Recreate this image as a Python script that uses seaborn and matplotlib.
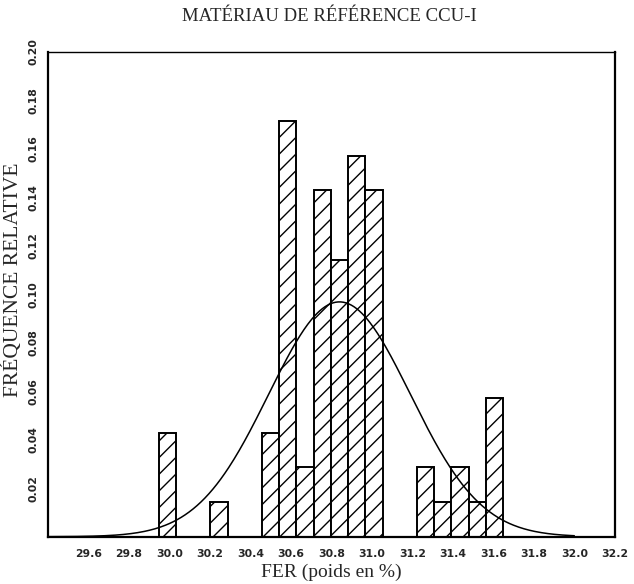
import numpy as np
import pandas as pd
import matplotlib
matplotlib.use("Agg")
import matplotlib.pyplot as plt
import seaborn as sns

# ---- data ----
bin_start = 29.99          # centre of first bin
bin_width = 0.085
bin_index = [0, 3, 6, 7, 8, 9, 10, 11, 12, 15, 16, 17, 18, 19]
counts    = [3, 1, 3, 12, 2, 10, 8, 11, 10, 2, 1, 2, 1, 4]
n_total   = 70
fit_mean  = 30.84
fit_sd    = 0.35
x_ticks   = [29.6, 29.8, 30.0, 30.2, 30.4, 30.6, 30.8, 31.0, 31.2, 31.4, 31.6, 31.8, 32.0, 32.2]
y_ticks   = [0.0, 0.02, 0.04, 0.06, 0.08, 0.10, 0.12, 0.14, 0.16, 0.18, 0.20]
y_labels  = ["", "0.02", "0.04", "0.06", "0.08", "0.10", "0.12", "0.14", "0.16", "0.18", "0.20"]
title     = "MATÉRIAU DE RÉFÉRENCE CCU-I"
xlabel    = "FER (poids en %)"
ylabel    = "FRÉQUENCE RELATIVE"

sns.set_theme(style="white")
plt.rcParams["font.family"] = ["Liberation Serif", "DejaVu Serif"]
plt.rcParams["hatch.linewidth"] = 1.0

centres = [bin_start + k * bin_width for k in bin_index]
df = pd.DataFrame({"FER": centres, "freq": [c / n_total for c in counts]})
edges = [bin_start - bin_width / 2 + k * bin_width for k in range(max(bin_index) + 2)]

fig = plt.figure(figsize=(6.34, 5.84), dpi=100)
ax = fig.add_axes([0.0757, 0.081, 0.894, 0.830])

sns.histplot(data=df, x="FER", weights="freq", bins=edges, stat="count",
             color="white", edgecolor="black", linewidth=1.4, hatch="//",
             alpha=1.0, ax=ax)

# fitted normal curve scaled to relative frequency per bin
xs = np.linspace(29.40, 32.0, 400)
ys = bin_width * np.exp(-0.5 * ((xs - fit_mean) / fit_sd) ** 2) / (fit_sd * np.sqrt(2 * np.pi))
sns.lineplot(x=xs, y=ys, color="black", linewidth=1.1, ax=ax)

ax.set_xlim(29.40, 32.2)
ax.set_ylim(0, 0.2)
tick_font = dict(family="DejaVu Sans", size=7.8, weight="bold")
ax.set_xticks(x_ticks)
ax.set_xticklabels([f"{v:.1f}" for v in x_ticks], fontdict=tick_font)
ax.set_yticks(y_ticks)
ax.set_yticklabels(y_labels, fontdict=tick_font, rotation=90, va="center")
ax.tick_params(axis="x", direction="out", length=5, width=1.2, color="black", pad=4)
ax.tick_params(axis="y", direction="out", length=4, width=1.2, color="black", pad=3)
for s in ax.spines.values():
    s.set_color("black")
    s.set_linewidth(1.6)
ax.spines["top"].set_linewidth(1.0)

ax.set_xlabel(xlabel, fontsize=14, labelpad=3)
ax.set_ylabel(ylabel, fontsize=15.5)
ax.yaxis.set_label_coords(-0.044, 0.53)
fig.text(0.52, 0.972, title, ha="center", va="center", fontsize=13.5)

fig.savefig("out.png", dpi=100)
